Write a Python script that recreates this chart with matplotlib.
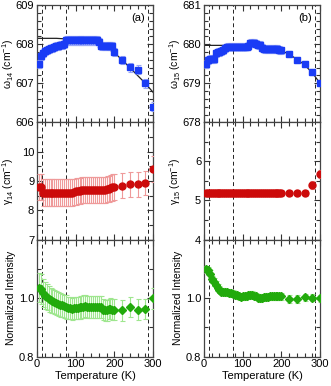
import numpy as np
from matplotlib import pyplot as plt
import matplotlib as mpl
from matplotlib.ticker import MultipleLocator

mpl.rcParams['font.family'] = ['Liberation Sans', 'DejaVu Sans']
mpl.rcParams['mathtext.default'] = 'regular'
mpl.rcParams['font.size'] = 8

# temperatures (K)
temp = [5, 10, 15, 20, 25, 30, 35, 40, 45, 50, 55, 60, 65, 70, 75, 80, 85, 90, 95, 100,
        105, 110, 115, 120, 125, 130, 135, 140, 145, 150, 155, 160, 165, 170, 175, 180,
        185, 190, 195, 200, 220, 240, 260, 280, 300]

# mode 14
w14 = [607.50, 607.70, 607.78, 607.82, 607.85, 607.87, 607.89, 607.91, 607.93, 607.95,
       607.96, 607.97, 607.98, 608.00, 608.10, 608.10, 608.10, 608.10, 608.10, 608.10,
       608.10, 608.10, 608.10, 608.10, 608.10, 608.10, 608.10, 608.10, 608.10, 608.10,
       608.10, 608.05, 607.95, 607.95, 607.95, 607.95, 607.95, 607.95, 607.95, 607.80,
       607.60, 607.41, 607.35, 607.00, 606.40]
w14_err = [0.10, 0.10, 0.10, 0.10, 0.10, 0.10, 0.10, 0.10, 0.10, 0.10,
           0.10, 0.10, 0.10, 0.10, 0.12, 0.12, 0.12, 0.12, 0.12, 0.12,
           0.12, 0.12, 0.12, 0.12, 0.12, 0.12, 0.12, 0.12, 0.12, 0.12,
           0.12, 0.12, 0.10, 0.10, 0.10, 0.10, 0.10, 0.10, 0.10, 0.10,
           0.11, 0.11, 0.11, 0.11, 0.11]
g14 = [8.80, 8.80, 8.60, 8.60, 8.60, 8.60, 8.60, 8.60, 8.60, 8.60,
       8.60, 8.60, 8.60, 8.60, 8.60, 8.60, 8.60, 8.60, 8.62, 8.64,
       8.65, 8.66, 8.68, 8.70, 8.70, 8.70, 8.70, 8.70, 8.70, 8.70,
       8.70, 8.70, 8.70, 8.70, 8.70, 8.72, 8.72, 8.75, 8.78, 8.80,
       8.84, 8.88, 8.88, 8.93, 9.40]
g14_err = [0.45, 0.45, 0.45, 0.45, 0.45, 0.45, 0.45, 0.45, 0.45, 0.45,
           0.45, 0.45, 0.45, 0.45, 0.45, 0.45, 0.45, 0.45, 0.45, 0.45,
           0.45, 0.45, 0.45, 0.45, 0.45, 0.45, 0.45, 0.45, 0.45, 0.45,
           0.45, 0.45, 0.45, 0.45, 0.45, 0.45, 0.45, 0.45, 0.45, 0.45,
           0.42, 0.42, 0.42, 0.42, 0.45]
i14 = [1.036, 1.031, 1.016, 1.008, 1.003, 0.997, 0.993, 0.990, 0.987, 0.984,
       0.980, 0.977, 0.975, 0.972, 0.970, 0.967, 0.965, 0.963, 0.965, 0.967,
       0.967, 0.968, 0.969, 0.971, 0.972, 0.970, 0.969, 0.969, 0.969, 0.969,
       0.969, 0.969, 0.969, 0.961, 0.958, 0.958, 0.962, 0.964, 0.961, 0.961,
       0.958, 0.969, 0.961, 0.962, 0.999]
i14_err = [0.050, 0.050, 0.048, 0.046, 0.045, 0.044, 0.043, 0.042, 0.041, 0.040,
           0.040, 0.040, 0.040, 0.040, 0.040, 0.038, 0.038, 0.038, 0.038, 0.038,
           0.038, 0.038, 0.038, 0.038, 0.038, 0.038, 0.038, 0.038, 0.038, 0.038,
           0.038, 0.038, 0.038, 0.035, 0.035, 0.035, 0.035, 0.035, 0.035, 0.035,
           0.035, 0.035, 0.035, 0.035, 0.035]

# mode 15
w15 = [679.49, 679.60, 679.62, 679.62, 679.62, 679.78, 679.79, 679.80, 679.82, 679.85,
       679.90, 679.94, 679.94, 679.94, 679.94, 679.94, 679.94, 679.94, 679.94, 679.94,
       679.94, 679.94, 679.96, 680.03, 680.04, 680.03, 680.00, 679.97, 679.97, 679.90,
       679.88, 679.88, 679.88, 679.88, 679.88, 679.88, 679.88, 679.88, 679.86, 679.84,
       679.75, 679.60, 679.49, 679.29, 679.00]
w15_err = [0.10, 0.10, 0.10, 0.10, 0.10, 0.10, 0.10, 0.10, 0.10, 0.10,
           0.10, 0.10, 0.10, 0.10, 0.10, 0.10, 0.10, 0.10, 0.10, 0.10,
           0.10, 0.10, 0.10, 0.10, 0.10, 0.10, 0.10, 0.10, 0.10, 0.10,
           0.10, 0.10, 0.10, 0.10, 0.10, 0.10, 0.10, 0.10, 0.10, 0.10,
           0.08, 0.08, 0.08, 0.08, 0.08]
g15 = [5.20, 5.20, 5.20, 5.20, 5.20, 5.20, 5.20, 5.20, 5.20, 5.20,
       5.20, 5.20, 5.20, 5.20, 5.20, 5.20, 5.20, 5.20, 5.20, 5.20,
       5.20, 5.20, 5.20, 5.20, 5.20, 5.20, 5.20, 5.20, 5.20, 5.20,
       5.20, 5.20, 5.20, 5.20, 5.20, 5.20, 5.20, 5.20, 5.20, 5.20,
       5.20, 5.20, 5.20, 5.39, 5.68]
g15_err = [0.08, 0.08, 0.08, 0.08, 0.08, 0.08, 0.08, 0.08, 0.08, 0.08,
           0.08, 0.08, 0.08, 0.08, 0.08, 0.08, 0.08, 0.08, 0.08, 0.08,
           0.08, 0.08, 0.08, 0.08, 0.08, 0.08, 0.08, 0.08, 0.08, 0.08,
           0.08, 0.08, 0.08, 0.08, 0.08, 0.08, 0.08, 0.08, 0.08, 0.08,
           0.08, 0.08, 0.08, 0.10, 0.10]
i15 = [1.099, 1.095, 1.083, 1.065, 1.055, 1.046, 1.036, 1.028, 1.022, 1.021,
       1.020, 1.020, 1.018, 1.016, 1.015, 1.012, 1.010, 1.006, 1.005, 1.006,
       1.007, 1.008, 1.010, 1.012, 1.011, 1.008, 1.006, 1.002, 1.000, 1.001,
       1.003, 1.004, 1.005, 1.006, 1.006, 1.006, 1.006, 1.006, 1.006, 1.006,
       0.997, 0.997, 1.003, 1.001, 0.999]
i15_err = [0.012, 0.012, 0.012, 0.012, 0.012, 0.012, 0.012, 0.012, 0.012, 0.012,
           0.012, 0.012, 0.012, 0.012, 0.012, 0.012, 0.012, 0.012, 0.012, 0.012,
           0.012, 0.012, 0.012, 0.012, 0.012, 0.012, 0.012, 0.012, 0.012, 0.012,
           0.012, 0.012, 0.012, 0.012, 0.012, 0.012, 0.012, 0.012, 0.012, 0.012,
           0.012, 0.012, 0.012, 0.012, 0.012]

# anharmonic fit curves
fit14_t = [0, 50, 100, 150, 180, 200, 220, 240, 260, 280, 300]
fit14_w = [608.15, 608.15, 608.12, 608.02, 607.90, 607.78, 607.60, 607.40, 607.20, 607.00, 606.77]
fit15_t = [0, 50, 100, 150, 200, 220, 240, 260, 280, 300]
fit15_w = [679.97, 679.97, 679.95, 679.93, 679.84, 679.74, 679.62, 679.47, 679.27, 679.00]

dash_t = [13, 75, 287]

fig = plt.figure(figsize=(3.31, 3.86), dpi=100)
left_x = [0.1118, 0.6163]
wd = 0.3505
ht = 0.3036
bottoms = [0.0759 + 2 * ht, 0.0759 + ht, 0.0759]

blue, blue_e = '#1a3cf5', '#9aa8f8'
red, red_e = '#cc0a0a', '#ef9a9a'
green, green_e = '#22aa0c', '#9ee68e'

cols = [
    dict(w=w14, we=w14_err, g=g14, ge=g14_err, i=i14, ie=i14_err,
         ft=fit14_t, fw=fit14_w, wl=(606, 609), gl=(7, 11),
         wlab='ω$_{14}$ (cm$^{-1}$)', glab='γ$_{14}$ (cm$^{-1}$)', tag='(a)'),
    dict(w=w15, we=w15_err, g=g15, ge=g15_err, i=i15, ie=i15_err,
         ft=fit15_t, fw=fit15_w, wl=(678, 681), gl=(4, 7),
         wlab='ω$_{15}$ (cm$^{-1}$)', glab='γ$_{15}$ (cm$^{-1}$)', tag='(b)'),
]

for c, x0 in zip(cols, left_x):
    axs = [fig.add_axes([x0, b, wd, ht]) for b in bottoms]
    a1, a2, a3 = axs

    a1.plot(c['ft'], c['fw'], color='#222222', lw=0.9, zorder=2)
    a1.errorbar(temp, c['w'], yerr=c['we'], fmt='s', ms=4, color=blue,
                ecolor=blue_e, elinewidth=0.8, capsize=1.8, capthick=0.8, zorder=3)
    a1.set_ylim(*c['wl'])
    a1.set_yticks(np.arange(c['wl'][0], c['wl'][1] + 1, 1))
    a1.yaxis.set_minor_locator(MultipleLocator(0.2))
    a1.set_ylabel(c['wlab'], size=7.5)
    a1.text(0.93, 0.89, c['tag'], transform=a1.transAxes, ha='right', va='center', size=8)

    a2.errorbar(temp, c['g'], yerr=c['ge'], fmt='o', ms=5, color=red,
                ecolor=red_e, elinewidth=0.8, capsize=1.8, capthick=0.8, zorder=3)
    a2.set_ylim(*c['gl'])
    a2.set_yticks(np.arange(c['gl'][0], c['gl'][1], 1))
    a2.yaxis.set_minor_locator(MultipleLocator(0.5))
    a2.set_ylabel(c['glab'], size=7.5)

    a3.errorbar(temp, c['i'], yerr=c['ie'], fmt='D', ms=4, color=green,
                ecolor=green_e, elinewidth=0.8, capsize=1.8, capthick=0.8, zorder=3)
    a3.set_ylim(0.8, 1.2)
    a3.set_yticks([0.8, 1.0])
    a3.yaxis.set_minor_locator(MultipleLocator(0.1))
    a3.set_ylabel('Normalized Intensity', size=7.5)
    a3.set_xlabel('Temperature (K)', labelpad=1)

    for ax in axs:
        ax.set_xlim(0, 300)
        ax.set_xticks([0, 100, 200, 300])
        ax.xaxis.set_minor_locator(MultipleLocator(20))
        for t in dash_t:
            ax.axvline(t, color='#222222', ls=(0, (4, 3)), lw=0.7, zorder=0)
        ax.tick_params(which='both', direction='in', top=True, right=True,
                       labelsize=8, color='#333333', width=0.8, pad=2)
        ax.tick_params(which='major', length=4)
        ax.tick_params(which='minor', length=3)
        for s in ax.spines.values():
            s.set_color('#444444')
            s.set_linewidth(0.9)
        ax.yaxis.set_label_coords(-0.185, 0.5)
    a1.tick_params(labelbottom=False)
    a2.tick_params(labelbottom=False)

fig.savefig('out.png', dpi=100)
